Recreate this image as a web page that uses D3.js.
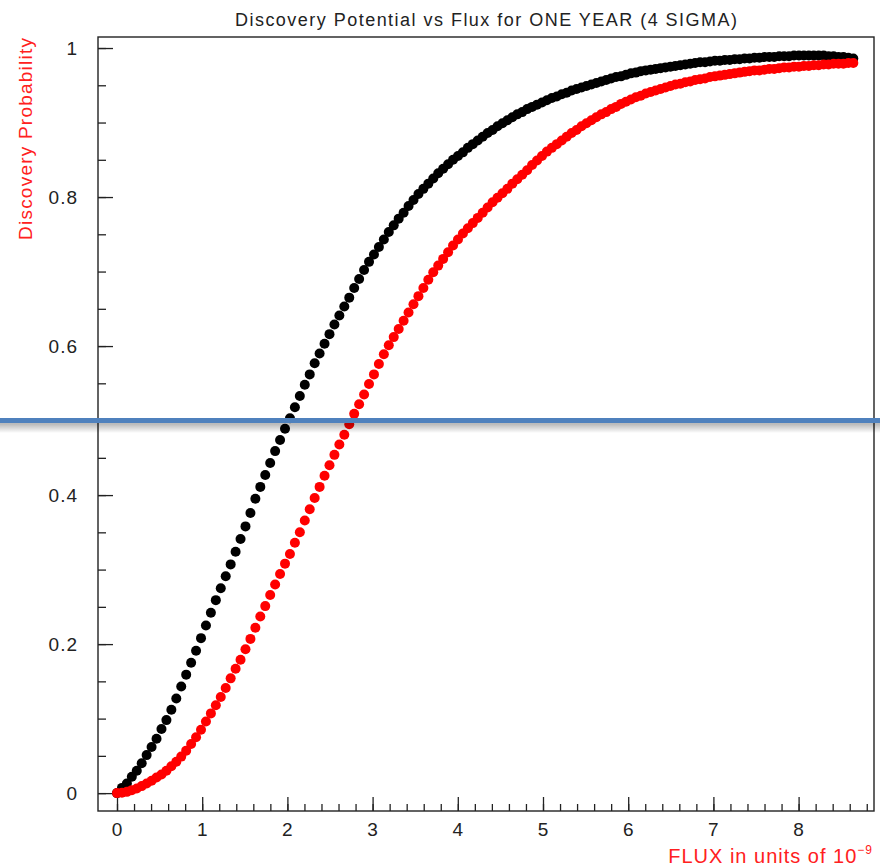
<!DOCTYPE html>
<html>
<head>
<meta charset="utf-8">
<script src="https://cdn.jsdelivr.net/npm/d3@7"></script>
<style>
body { margin: 0; background: #fff; }
svg text { font-family: "Liberation Sans", Arial, sans-serif; }
</style>
</head>
<body>
<div id="graph"></div>
<script>
// flux in units of 1e-9
var flux = [0, 0.058, 0.116, 0.174, 0.232, 0.29, 0.348, 0.406, 0.464, 0.522,
  0.58, 0.638, 0.696, 0.754, 0.812, 0.87, 0.928, 0.986, 1.044, 1.102,
  1.16, 1.218, 1.276, 1.334, 1.392, 1.45, 1.508, 1.566, 1.624, 1.682,
  1.74, 1.798, 1.856, 1.914, 1.972, 2.03, 2.088, 2.146, 2.204, 2.262,
  2.32, 2.378, 2.436, 2.494, 2.552, 2.61, 2.668, 2.726, 2.784, 2.842,
  2.9, 2.958, 3.016, 3.074, 3.132, 3.19, 3.248, 3.306, 3.364, 3.422,
  3.48, 3.538, 3.596, 3.654, 3.712, 3.77, 3.828, 3.886, 3.944, 4.002,
  4.06, 4.118, 4.176, 4.234, 4.292, 4.35, 4.408, 4.466, 4.524, 4.582,
  4.64, 4.698, 4.756, 4.814, 4.872, 4.93, 4.988, 5.046, 5.104, 5.162,
  5.22, 5.278, 5.336, 5.394, 5.452, 5.51, 5.568, 5.626, 5.684, 5.742,
  5.8, 5.858, 5.916, 5.974, 6.032, 6.09, 6.148, 6.206, 6.264, 6.322,
  6.38, 6.438, 6.496, 6.554, 6.612, 6.67, 6.728, 6.786, 6.844, 6.902,
  6.96, 7.018, 7.076, 7.134, 7.192, 7.25, 7.308, 7.366, 7.424, 7.482,
  7.54, 7.598, 7.656, 7.714, 7.772, 7.83, 7.888, 7.946, 8.004, 8.062,
  8.12, 8.178, 8.236, 8.294, 8.352, 8.41, 8.468, 8.526, 8.584, 8.642];

var probBlack = [0, 0.007, 0.013, 0.022, 0.030, 0.040, 0.051, 0.062, 0.073, 0.086,
  0.098, 0.112, 0.127, 0.143, 0.159, 0.175, 0.191, 0.208, 0.225, 0.242,
  0.259, 0.275, 0.291, 0.307, 0.324, 0.341, 0.358, 0.376, 0.395, 0.411,
  0.427, 0.443, 0.459, 0.474, 0.489, 0.503, 0.518, 0.533, 0.548, 0.562,
  0.577, 0.590, 0.603, 0.616, 0.629, 0.641, 0.653, 0.665, 0.678, 0.690,
  0.702, 0.713, 0.723, 0.733, 0.743, 0.753, 0.762, 0.771, 0.779, 0.788,
  0.796, 0.804, 0.811, 0.818, 0.825, 0.832, 0.838, 0.844, 0.850, 0.855,
  0.860, 0.866, 0.871, 0.876, 0.881, 0.886, 0.890, 0.895, 0.899, 0.903,
  0.907, 0.911, 0.914, 0.918, 0.921, 0.924, 0.927, 0.930, 0.933, 0.935,
  0.938, 0.940, 0.943, 0.945, 0.947, 0.949, 0.951, 0.953, 0.955, 0.957,
  0.959, 0.961, 0.962, 0.964, 0.966, 0.967, 0.969, 0.970, 0.971, 0.972,
  0.973, 0.974, 0.975, 0.976, 0.977, 0.978, 0.979, 0.980, 0.981, 0.981,
  0.982, 0.983, 0.983, 0.984, 0.984, 0.985, 0.985, 0.986, 0.986, 0.987,
  0.987, 0.988, 0.988, 0.988, 0.989, 0.989, 0.989, 0.990, 0.990, 0.990,
  0.990, 0.990, 0.990, 0.990, 0.989, 0.989, 0.988, 0.988, 0.987, 0.986];

var probRed = [0, 0.0005, 0.0017, 0.004, 0.0063, 0.0094, 0.013, 0.0165, 0.021, 0.025,
  0.030, 0.036, 0.042, 0.049, 0.057, 0.066, 0.075, 0.085, 0.096, 0.107,
  0.118, 0.129, 0.141, 0.154, 0.167, 0.179, 0.193, 0.207, 0.222, 0.237,
  0.251, 0.266, 0.280, 0.294, 0.308, 0.321, 0.336, 0.350, 0.366, 0.381,
  0.396, 0.411, 0.426, 0.440, 0.454, 0.468, 0.481, 0.495, 0.509, 0.522,
  0.535, 0.549, 0.562, 0.576, 0.589, 0.601, 0.612, 0.623, 0.634, 0.645,
  0.656, 0.667, 0.678, 0.689, 0.699, 0.708, 0.717, 0.726, 0.735, 0.743,
  0.751, 0.758, 0.765, 0.772, 0.779, 0.786, 0.793, 0.799, 0.805, 0.811,
  0.818, 0.824, 0.830, 0.836, 0.843, 0.849, 0.855, 0.861, 0.866, 0.871,
  0.876, 0.881, 0.886, 0.890, 0.895, 0.899, 0.903, 0.907, 0.911, 0.914,
  0.918, 0.921, 0.925, 0.928, 0.931, 0.934, 0.936, 0.939, 0.941, 0.943,
  0.945, 0.947, 0.949, 0.951, 0.952, 0.954, 0.955, 0.957, 0.958, 0.959,
  0.961, 0.962, 0.963, 0.964, 0.965, 0.966, 0.967, 0.968, 0.969, 0.970,
  0.970, 0.971, 0.972, 0.972, 0.973, 0.974, 0.974, 0.975, 0.975, 0.976,
  0.976, 0.977, 0.977, 0.978, 0.978, 0.979, 0.979, 0.979, 0.980, 0.980];

var xTicks = [0, 1, 2, 3, 4, 5, 6, 7, 8];
var yTicks = [0, 0.2, 0.4, 0.6, 0.8, 1];
var yTickLabels = ['0', '0.2', '0.4', '0.6', '0.8', '1'];
var threshold = 0.5;
var title = 'Discovery Potential vs Flux for ONE YEAR (4 SIGMA)';

var width = 884, height = 867;
var frame = {left: 98, right: 874, top: 37, bottom: 811};

var x = d3.scaleLinear().domain([-0.223, 8.885]).range([frame.left, frame.right]);
var y = d3.scaleLinear().domain([-0.024, 1.0148]).range([frame.bottom, frame.top]);

var svg = d3.select('#graph').append('svg')
  .attr('width', width).attr('height', height);

var defs = svg.append('defs');
var grad = defs.append('linearGradient').attr('id', 'shadow')
  .attr('x1', 0).attr('y1', 0).attr('x2', 0).attr('y2', 1);
grad.append('stop').attr('offset', '0%').attr('stop-color', '#000').attr('stop-opacity', 0.3);
grad.append('stop').attr('offset', '100%').attr('stop-color', '#000').attr('stop-opacity', 0);

// x axis, ticks pointing up inside the frame
svg.append('g')
  .attr('transform', 'translate(0,' + frame.bottom + ')')
  .call(d3.axisBottom(x).tickValues(d3.range(0, 8.81, 0.2)).tickSize(-7).tickFormat(''));
svg.append('g')
  .attr('transform', 'translate(0,' + frame.bottom + ')')
  .call(d3.axisBottom(x).tickValues(xTicks).tickSize(-14).tickPadding(12));

svg.append('g')
  .attr('transform', 'translate(' + frame.left + ',0)')
  .call(d3.axisLeft(y).tickValues(d3.range(0, 1.001, 0.05)).tickSize(-8).tickFormat(''));
svg.append('g')
  .attr('transform', 'translate(' + frame.left + ',0)')
  .call(d3.axisLeft(y).tickValues(yTicks).tickSize(-15).tickPadding(20)
    .tickFormat(function(d, i){ return yTickLabels[i]; }));

svg.selectAll('.domain').remove();
svg.selectAll('.tick line').attr('stroke', '#222').attr('stroke-width', 1.3);
svg.selectAll('.tick text')
  .attr('font-size', 19)
  .attr('fill', '#222')
  .style('font-family', '"Liberation Sans", Arial, sans-serif')
  .style('letter-spacing', '1px');

// frame
svg.append('rect')
  .attr('x', frame.left).attr('y', frame.top)
  .attr('width', frame.right - frame.left).attr('height', frame.bottom - frame.top)
  .attr('fill', 'none').attr('stroke', '#222').attr('stroke-width', 1.4);

var nodeData = flux.map(function(f, i){ return {x: f, black: probBlack[i], red: probRed[i]}; });

svg.append('g').selectAll('circle').data(nodeData).enter()
  .append('circle')
  .attr('cx', function(d){ return x(d.x); })
  .attr('cy', function(d){ return y(d.black); })
  .attr('r', 5)
  .attr('fill', '#000');

svg.append('g').selectAll('circle').data(nodeData).enter()
  .append('circle')
  .attr('cx', function(d){ return x(d.x); })
  .attr('cy', function(d){ return y(d.red); })
  .attr('r', 5)
  .attr('fill', '#ff0000');

// title and axis titles
svg.append('text')
  .attr('x', (frame.left + frame.right) / 2).attr('y', 26)
  .attr('text-anchor', 'middle')
  .attr('font-size', 18).attr('fill', '#222')
  .attr('textLength', 502).attr('lengthAdjust', 'spacing')
  .text(title);

svg.append('text')
  .attr('transform', 'translate(32,139) rotate(-90)')
  .attr('text-anchor', 'middle')
  .attr('font-size', 19).attr('fill', '#ff2020')
  .attr('textLength', 202).attr('lengthAdjust', 'spacing')
  .text('Discovery Probability');

var xt = svg.append('text')
  .attr('x', 873).attr('y', 863)
  .attr('text-anchor', 'end')
  .attr('font-size', 20).attr('fill', '#ff2020')
  .style('letter-spacing', '1px');
xt.append('tspan').text('FLUX in units of 10');
xt.append('tspan').attr('dy', -9).attr('font-size', 12).text('\u22129');

// 50% threshold marker drawn over the plot
svg.append('rect')
  .attr('x', 0).attr('y', y(threshold) + 2.5)
  .attr('width', 880).attr('height', 10)
  .attr('fill', 'url(#shadow)');
svg.append('line')
  .attr('x1', 0).attr('x2', 880)
  .attr('y1', y(threshold)).attr('y2', y(threshold))
  .attr('stroke', '#4f81bd').attr('stroke-width', 5);
</script>
</body>
</html>
